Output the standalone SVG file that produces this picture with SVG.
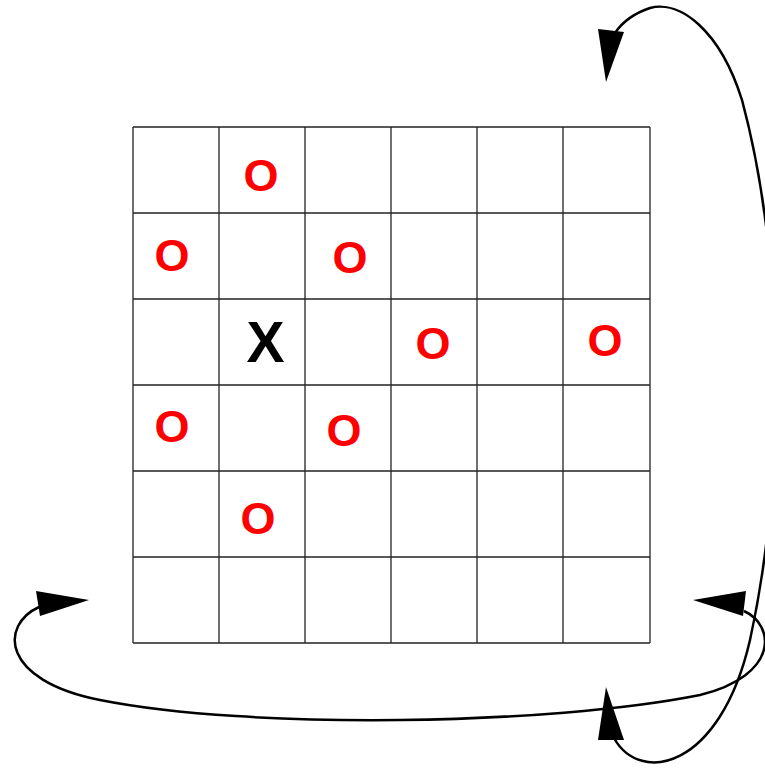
<svg xmlns="http://www.w3.org/2000/svg" width="765" height="768" viewBox="0 0 765 768">
<style>
.grid line{stroke:#222;stroke-width:1.3}
.o{font-family:"Liberation Sans",Arial,sans-serif;font-weight:bold;font-size:45px;fill:#ff0000;text-anchor:middle}
.x{font-family:"Liberation Sans",Arial,sans-serif;font-weight:bold;font-size:57px;fill:#000;text-anchor:middle}
.edge{fill:none;stroke:#000;stroke-width:2.5}
.head{fill:#000;stroke:none}
</style>
<rect width="765" height="768" fill="#fff"/>
<g id="board" class="grid">
<line x1="133" y1="127" x2="133" y2="643"/>
<line x1="219" y1="127" x2="219" y2="643"/>
<line x1="305" y1="127" x2="305" y2="643"/>
<line x1="391" y1="127" x2="391" y2="643"/>
<line x1="477" y1="127" x2="477" y2="643"/>
<line x1="563" y1="127" x2="563" y2="643"/>
<line x1="650" y1="127" x2="650" y2="643"/>
<line x1="133" y1="127" x2="650" y2="127"/>
<line x1="133" y1="213" x2="650" y2="213"/>
<line x1="133" y1="299" x2="650" y2="299"/>
<line x1="133" y1="385" x2="650" y2="385"/>
<line x1="133" y1="471" x2="650" y2="471"/>
<line x1="133" y1="557" x2="650" y2="557"/>
<line x1="133" y1="643" x2="650" y2="643"/>
</g>
<g id="pieces">
<text class="o" x="261" y="191">O</text>
<text class="o" x="172" y="271">O</text>
<text class="o" x="350" y="273">O</text>
<text class="x" x="265.5" y="362">X</text>
<text class="o" x="433" y="359">O</text>
<text class="o" x="605" y="356">O</text>
<text class="o" x="172" y="442">O</text>
<text class="o" x="344" y="446">O</text>
<text class="o" x="258" y="534">O</text>
</g>
<g id="connectors">
<path class="edge" d="M614,738 C640,785 720,770 750,640 C785,480 785,260 742,100 C720,30 680,0 650,8 C632,14 621,24 615,33"/>
<path class="edge" d="M39,607 C0,625 0,680 100,700 C250,730 550,725 700,695 C780,675 775,625 744,611"/>
<polygon class="head" points="606,82 598,29 624,32"/>
<polygon class="head" points="606,687 598,740 624,740"/>
<polygon class="head" points="89,600 36,591 40,616"/>
<polygon class="head" points="693,600 746,591 743,616"/>
</g>
</svg>
